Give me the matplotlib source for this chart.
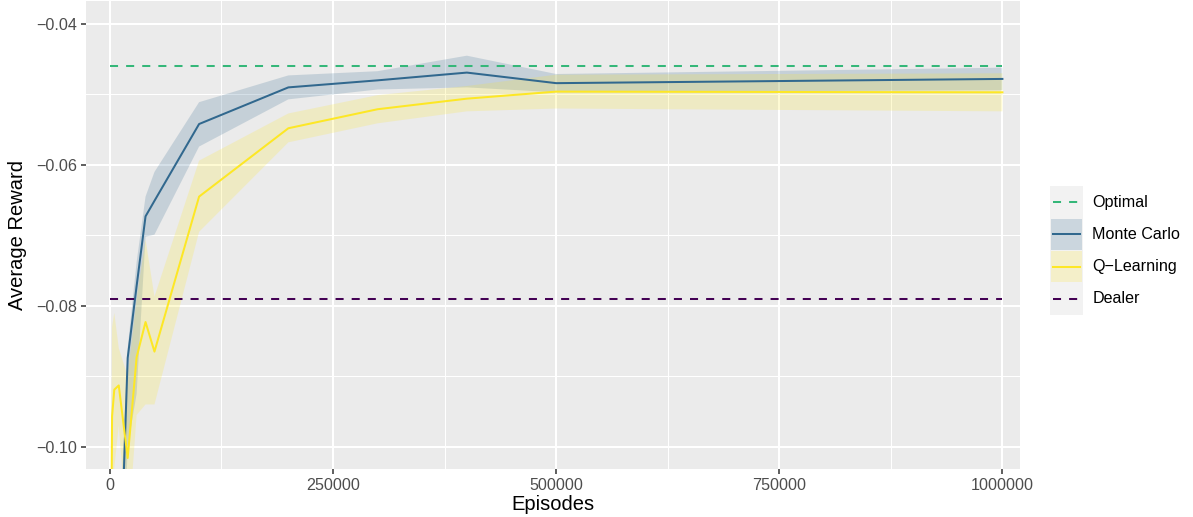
import matplotlib.pyplot as plt
from matplotlib.patches import Rectangle

# values
mc_episodes = [10000, 20000, 30000, 40000, 50000, 100000, 200000, 300000, 400000, 500000, 1000000]
mc_reward = [-0.1250, -0.0874, -0.0772, -0.0673, -0.0651, -0.0542, -0.0490, -0.0480, -0.0469, -0.0484, -0.0478]
mc_upper = [-0.1150, -0.0860, -0.0738, -0.0645, -0.0610, -0.0511, -0.0473, -0.0467, -0.0445, -0.0471, -0.0462]
mc_lower = [-0.1350, -0.1000, -0.0925, -0.0702, -0.0699, -0.0574, -0.0507, -0.0493, -0.0490, -0.0497, -0.0494]

ql_episodes = [1000, 2500, 5000, 10000, 20000, 30000, 40000, 50000, 100000, 200000, 300000, 400000, 500000, 1000000]
ql_reward = [-0.1250, -0.0957, -0.0919, -0.0913, -0.1016, -0.0873, -0.0823, -0.0865, -0.0645, -0.0548, -0.0521, -0.0506, -0.0496, -0.0497]
ql_upper = [-0.1100, -0.0830, -0.0810, -0.0860, -0.0900, -0.0790, -0.0706, -0.0787, -0.0594, -0.0527, -0.0501, -0.0488, -0.0472, -0.0470]
ql_lower = [-0.1400, -0.1080, -0.1030, -0.0970, -0.1130, -0.0955, -0.0940, -0.0940, -0.0695, -0.0568, -0.0541, -0.0524, -0.0520, -0.0524]

ref_episodes = [0, 1000000]
optimal_reward = -0.0460
dealer_reward = -0.0790

x_ticks = [0, 250000, 500000, 750000, 1000000]
x_labels = ["0", "250000", "500000", "750000", "1000000"]
x_minor = [125000, 375000, 625000, 875000]
y_ticks = [-0.10, -0.08, -0.06, -0.04]
y_labels = ["\u22120.10", "\u22120.08", "\u22120.06", "\u22120.04"]
y_minor = [-0.09, -0.07, -0.05]

legend_labels = ["Optimal", "Monte Carlo", "Q\u2212Learning", "Dealer"]

C_OPT = "#35B779"
C_MC = "#31688E"
C_QL = "#FDE725"
C_DEAL = "#440154"

plt.rcParams['font.family'] = ['Liberation Sans', 'DejaVu Sans']

W, H = 1193, 517
fig = plt.figure(figsize=(W / 100, H / 100), dpi=100)
fig.patch.set_facecolor("white")

# panel: x 86..1020 px, y 1..469 px
ax = fig.add_axes([86 / W, 1 - 469 / H, (1020 - 86) / W, (469 - 1) / H])
ax.set_facecolor("#EBEBEB")
for s in ax.spines.values():
    s.set_visible(False)

ax.set_xlim(-26700, 1019700)
ax.set_ylim(-0.10316, -0.03674)

ax.set_xticks(x_ticks)
ax.set_xticklabels(x_labels)
ax.set_xticks(x_minor, minor=True)
ax.set_yticks(y_ticks)
ax.set_yticklabels(y_labels)
ax.set_yticks(y_minor, minor=True)

ax.grid(which="major", color="white", linewidth=1.45)
ax.grid(which="minor", color="white", linewidth=0.75)
ax.set_axisbelow(True)
ax.tick_params(which="major", length=3.6, width=1.1, color="#333333",
               labelcolor="#4D4D4D", labelsize=11.6, pad=2.9)
ax.tick_params(which="minor", length=0)

# ribbons
ax.fill_between(mc_episodes, mc_lower, mc_upper, color=C_MC, alpha=0.2, linewidth=0)
ax.fill_between(ql_episodes, ql_lower, ql_upper, color=C_QL, alpha=0.2, linewidth=0)

# lines
ax.plot(mc_episodes, mc_reward, color=C_MC, linewidth=1.45)
ax.plot(ql_episodes, ql_reward, color=C_QL, linewidth=1.45)
ax.plot(ref_episodes, [optimal_reward] * 2, color=C_OPT, linewidth=1.45,
        dashes=(4, 4), dash_capstyle="butt")
ax.plot(ref_episodes, [dealer_reward] * 2, color=C_DEAL, linewidth=1.45,
        dashes=(4, 4), dash_capstyle="butt")

fig.text(553 / W, 1 - 505 / H, "Episodes", ha="center", va="center", fontsize=14.5)
fig.text(18 / W, 1 - 235 / H, "Average Reward", ha="center", va="center",
         rotation=90, fontsize=14.5)

# legend drawn by hand: keys 1050..1083 px, rows from 186 to 315 px
lg = fig.add_axes([1050 / W, 1 - 315 / H, 33 / W, 129 / H])
lg.set_xlim(0, 1)
lg.set_ylim(4, 0)
lg.axis("off")
lg.add_patch(Rectangle((0, 0), 1, 4, facecolor="#F2F2F2", edgecolor="none"))
lg.add_patch(Rectangle((0.03, 1.03), 0.94, 0.94, facecolor=C_MC, alpha=0.2, edgecolor="none"))
lg.add_patch(Rectangle((0.03, 2.03), 0.94, 0.94, facecolor=C_QL, alpha=0.2, edgecolor="none"))
lg.plot([0.1, 0.9], [0.5, 0.5], color=C_OPT, linewidth=1.45, dashes=(4, 4), dash_capstyle="butt")
lg.plot([0.1, 0.9], [1.5, 1.5], color=C_MC, linewidth=1.45)
lg.plot([0.1, 0.9], [2.5, 2.5], color=C_QL, linewidth=1.45)
lg.plot([0.1, 0.9], [3.5, 3.5], color=C_DEAL, linewidth=1.45, dashes=(4, 4), dash_capstyle="butt")

for i, lab in enumerate(legend_labels):
    fig.text(1092.5 / W, 1 - (186 + 32.25 * (i + 0.5)) / H, lab, ha="left",
             va="center", fontsize=11.6, color="black")

fig.savefig("out.png", dpi=100)
